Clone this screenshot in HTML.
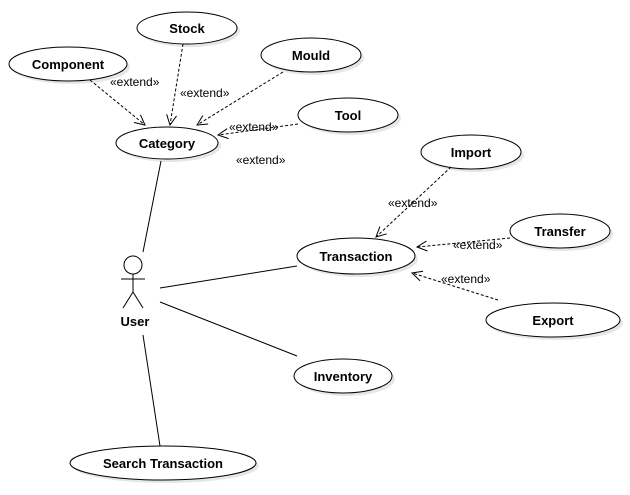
<!DOCTYPE html>
<html><head><style>
html,body{margin:0;padding:0;background:#fff;}
svg text{font-family:"Liberation Sans",sans-serif;}
</style></head><body>
<svg width="630" height="490" viewBox="0 0 630 490" xmlns="http://www.w3.org/2000/svg">
<defs>
<marker id="a" markerWidth="12" markerHeight="12" refX="11" refY="6" orient="auto" markerUnits="userSpaceOnUse">
<path d="M1,1 L11,6 L1,11" fill="none" stroke="#000" stroke-width="1"/>
</marker>
</defs>
<g fill="#e6e6e6">
<ellipse cx="190" cy="31" rx="50" ry="16"/>
<ellipse cx="71" cy="67" rx="59" ry="17"/>
<ellipse cx="314" cy="58" rx="50" ry="17"/>
<ellipse cx="351" cy="118" rx="50" ry="17"/>
<ellipse cx="170" cy="146" rx="51" ry="16"/>
<ellipse cx="474" cy="155" rx="50" ry="17"/>
<ellipse cx="563" cy="234" rx="50" ry="17"/>
<ellipse cx="359" cy="259" rx="59" ry="18"/>
<ellipse cx="556" cy="323" rx="67" ry="17"/>
<ellipse cx="346" cy="379" rx="49" ry="17"/>
<ellipse cx="166" cy="466" rx="93" ry="17"/>
</g>
<g fill="#fff" stroke="#000" stroke-width="1">
<ellipse cx="187" cy="28" rx="50" ry="16"/>
<ellipse cx="68" cy="64" rx="59" ry="17"/>
<ellipse cx="311" cy="55" rx="50" ry="17"/>
<ellipse cx="348" cy="115" rx="50" ry="17"/>
<ellipse cx="167" cy="143" rx="51" ry="16"/>
<ellipse cx="471" cy="152" rx="50" ry="17"/>
<ellipse cx="560" cy="231" rx="50" ry="17"/>
<ellipse cx="356" cy="256" rx="59" ry="18"/>
<ellipse cx="553" cy="320" rx="67" ry="17"/>
<ellipse cx="343" cy="376" rx="49" ry="17"/>
<ellipse cx="163" cy="463" rx="93" ry="17"/>
</g>
<g font-size="13" font-weight="bold" text-anchor="middle" fill="#000">
<text x="187" y="33">Stock</text>
<text x="68" y="69">Component</text>
<text x="311" y="60">Mould</text>
<text x="348" y="120">Tool</text>
<text x="167" y="148">Category</text>
<text x="471" y="157">Import</text>
<text x="560" y="236">Transfer</text>
<text x="356" y="261">Transaction</text>
<text x="553" y="325">Export</text>
<text x="343" y="381">Inventory</text>
<text x="163" y="468">Search Transaction</text>
<text x="135" y="326">User</text>
</g>
<g stroke="#000" stroke-width="1" fill="none">
<circle cx="133" cy="265" r="9" fill="#fff"/>
<line x1="133" y1="274" x2="133" y2="292"/>
<line x1="121" y1="279" x2="145" y2="279"/>
<line x1="133" y1="292" x2="123" y2="308"/>
<line x1="133" y1="292" x2="143" y2="308"/>
<line x1="161" y1="161" x2="143" y2="252"/>
<line x1="160" y1="288" x2="297" y2="266"/>
<line x1="160" y1="302" x2="297" y2="356"/>
<line x1="143" y1="335" x2="160" y2="446"/>
</g>
<g stroke="#000" stroke-width="1" fill="none" stroke-dasharray="3,2" marker-end="url(#a)">
<line x1="90" y1="80" x2="145" y2="125"/>
<line x1="183" y1="44" x2="170" y2="125"/>
<line x1="283" y1="72" x2="197" y2="125"/>
<line x1="298" y1="124" x2="218" y2="135"/>
<line x1="451" y1="167" x2="376" y2="237"/>
<line x1="510" y1="238" x2="417" y2="247"/>
<line x1="498" y1="300" x2="412" y2="273"/>
</g>
<g font-size="12" fill="#000">
<text x="110" y="86">«extend»</text>
<text x="180" y="97">«extend»</text>
<text x="229" y="131">«extend»</text>
<text x="236" y="164">«extend»</text>
<text x="388" y="207">«extend»</text>
<text x="453" y="249">«extend»</text>
<text x="441" y="283">«extend»</text>
</g>
</svg>
</body></html>
